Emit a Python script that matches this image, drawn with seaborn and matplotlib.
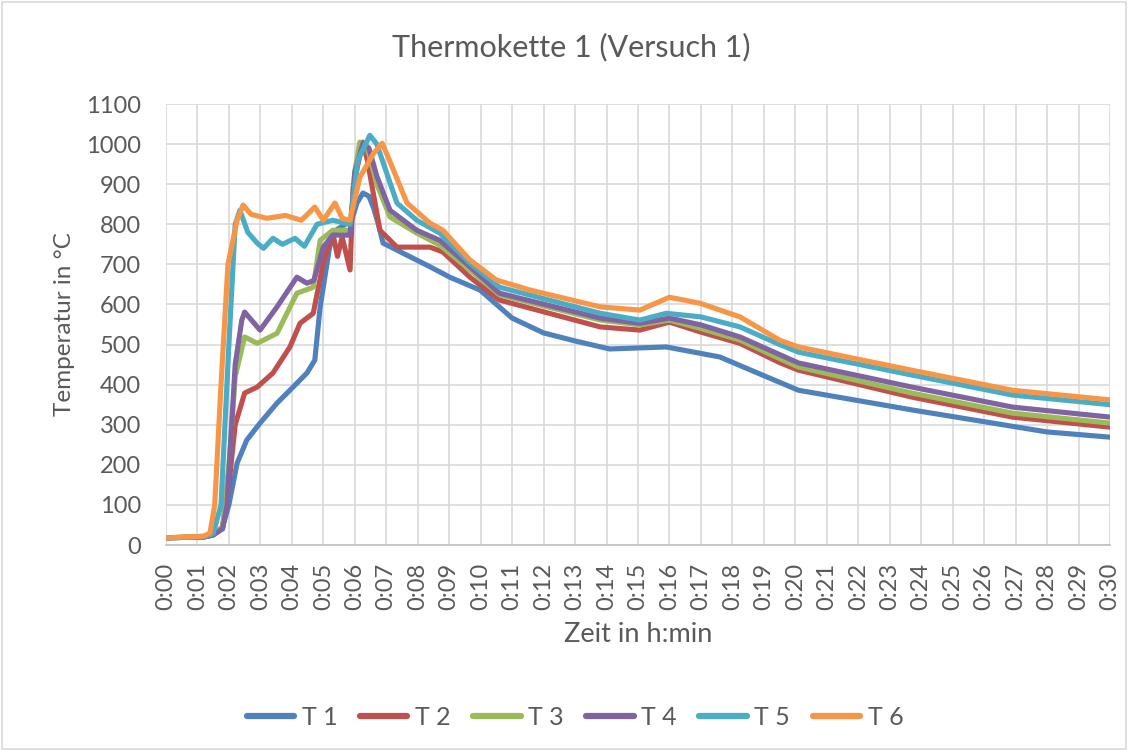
import matplotlib
matplotlib.use("Agg")
import matplotlib.pyplot as plt
import seaborn as sns
import pandas as pd
from matplotlib.patches import Rectangle

# Zeit in Minuten, Temperatur in °C
t1_time = [0, 1.2, 1.5, 1.8, 2.0, 2.26, 2.57, 2.99, 3.53, 4.04, 4.48, 4.73, 4.9, 5.2, 5.4, 5.9, 6.07,
           6.26, 6.45, 6.6, 6.75, 6.9, 7.53, 8.39, 9.02, 9.98, 11.0, 12.0, 13.0, 14.1, 15.9, 17.6,
           19.1, 20.1, 23.7, 28, 30]
t1_temp = [18, 20, 25, 45, 100, 204, 262, 304, 354, 394, 429, 461, 594, 743, 785, 810, 853,
           878, 870, 840, 800, 753, 728, 694, 668, 636, 566, 529, 509, 489, 494, 469,
           419, 386, 337, 282, 269]

t2_time = [0, 1.2, 1.5, 1.8, 2.0, 2.2, 2.5, 2.9, 3.4, 3.94, 4.26, 4.68, 5.0, 5.3, 5.45, 5.6, 5.85,
           5.95, 6.25, 6.4, 6.8, 7.34, 8.39, 8.8, 9.66, 10.6, 13.8, 15.06, 16.0, 17.0, 18.24, 19.5,
           20.1, 23.7, 26.9, 30]
t2_temp = [18, 20, 25, 45, 150, 300, 379, 394, 429, 494, 553, 578, 703, 778, 720, 768, 686,
           893, 1005, 960, 785, 743, 743, 731, 668, 611, 544, 536, 556, 531, 503, 455,
           436, 369, 319, 294]

t3_time = [0, 1.2, 1.5, 1.8, 2.0, 2.2, 2.5, 2.9, 3.53, 4.16, 4.68, 4.9, 5.3, 5.85, 6.0, 6.16, 6.4,
           6.7, 7.12, 7.97, 8.7, 9.66, 10.6, 13.8, 15.06, 16.0, 17.0, 18.24, 19.5, 20.1, 23.7,
           26.9, 30]
t3_temp = [18, 20, 25, 45, 200, 420, 519, 503, 528, 628, 643, 760, 785, 785, 930, 1005, 990,
           900, 818, 778, 748, 686, 624, 561, 549, 561, 540, 511, 465, 444, 379,
           329, 304]

t4_time = [0, 1.2, 1.5, 1.8, 1.94, 2.2, 2.41, 2.5, 2.99, 3.53, 4.16, 4.48, 4.7, 5.0, 5.3, 5.85, 6.0,
           6.26, 6.45, 6.7, 7.12, 7.97, 8.7, 9.66, 10.6, 13.8, 15.06, 16.0, 17.0, 18.24, 19.5,
           20.1, 23.7, 26.9, 30]
t4_temp = [18, 20, 25, 40, 100, 450, 561, 581, 536, 594, 668, 653, 660, 743, 773, 773, 930,
           1002, 990, 920, 835, 785, 760, 694, 628, 566, 553, 566, 549, 519, 475,
           454, 394, 344, 319]

t5_time = [0, 1.2, 1.5, 1.75, 2.0, 2.2, 2.35, 2.6, 2.9, 3.1, 3.4, 3.7, 4.1, 4.4, 4.8, 5.3, 5.85,
           6.1, 6.48, 6.7, 7.34, 7.97, 8.7, 9.66, 10.6, 13.8, 15.06, 15.9, 17.0, 18.24, 19.5,
           20.1, 23.7, 26.9, 30]
t5_temp = [18, 20, 28, 100, 500, 800, 835, 780, 753, 740, 765, 750, 765, 745, 800, 810, 800,
           960, 1022, 1000, 853, 810, 778, 703, 643, 578, 561, 578, 569, 544, 500,
           481, 424, 374, 350]

t6_time = [0, 1.2, 1.4, 1.55, 1.75, 1.97, 2.26, 2.45, 2.7, 3.2, 3.8, 4.3, 4.73, 5.0, 5.37, 5.6,
           5.85, 6.16, 6.6, 6.87, 7.1, 7.66, 8.39, 8.8, 9.66, 10.5, 11.57, 13.8, 15.06, 16.0,
           16.97, 18.24, 19.5, 20.1, 23.7, 26.9, 30]
t6_temp = [18, 22, 30, 100, 400, 700, 810, 848, 825, 815, 822, 810, 843, 810, 853, 815,
           810, 917, 977, 1002, 960, 853, 803, 785, 711, 661, 636, 594, 586, 618,
           603, 569, 511, 494, 436, 386, 362]

sensors = ["T 1", "T 2", "T 3", "T 4", "T 5", "T 6"]
colors = ["#4F81BD", "#C0504D", "#9BBB59", "#8064A2", "#4BACC6", "#F79646"]
series = [(t1_time, t1_temp), (t2_time, t2_temp), (t3_time, t3_temp),
          (t4_time, t4_temp), (t5_time, t5_temp), (t6_time, t6_temp)]

x_ticks = list(range(0, 31))
x_labels = [f"0:{m:02d}" for m in x_ticks]
y_ticks = list(range(0, 1101, 100))

frames = []
for name, (tt, vv) in zip(sensors, series):
    frames.append(pd.DataFrame({"Zeit": tt, "Temperatur": vv, "Sensor": name}))
df = pd.concat(frames, ignore_index=True)

sns.set_theme(style="whitegrid")
plt.rcParams['font.family'] = ['Lato', 'DejaVu Sans']
text_color = "#595959"
grid_color = "#d9d9d9"

fig = plt.figure(figsize=(11.32, 7.51), dpi=100)
ax = fig.add_axes([0.1466, 0.2743, 0.834, 0.5872])

sns.lineplot(data=df, x="Zeit", y="Temperatur", hue="Sensor", palette=colors,
             estimator=None, sort=False, linewidth=3.7, ax=ax)

ax.set_xlim(0, 30)
ax.set_ylim(0, 1100)
ax.set_xticks(x_ticks)
ax.set_xticklabels(x_labels, rotation=90)
ax.set_yticks(y_ticks)
ax.tick_params(axis="both", labelsize=17, colors=text_color, length=0)
ax.tick_params(axis="x", pad=13)
ax.tick_params(axis="y", pad=18)
ax.grid(True, color=grid_color, linewidth=1.2)
ax.set_facecolor("white")
for side in ["top", "right", "left"]:
    ax.spines[side].set_visible(False)
ax.spines["bottom"].set_color("#bfbfbf")
ax.spines["bottom"].set_linewidth(1.2)

ax.set_xlabel("Zeit in h:min", fontsize=19.5, color=text_color, labelpad=8)
ax.set_ylabel("Temperatur in °C", fontsize=17.5, color=text_color, labelpad=8)
fig.suptitle("Thermokette 1 (Versuch 1)", fontsize=22, color=text_color,
             x=0.505, y=0.937, va="center")

handles, labels = ax.get_legend_handles_labels()
ax.legend_.remove()
leg = fig.legend(handles, labels, loc="center", bbox_to_anchor=(0.508, 0.045), ncol=6,
                 frameon=False, fontsize=18, handlelength=1.9, handletextpad=0.3,
                 columnspacing=0.9)
for txt in leg.get_texts():
    txt.set_color(text_color)
for line in leg.get_lines():
    line.set_linewidth(4.5)

fig.patches.append(Rectangle((0.002, 0.003), 0.993, 0.994, transform=fig.transFigure,
                             fill=False, edgecolor=grid_color, linewidth=1.2))

fig.savefig("out.png", dpi=100, facecolor="white")
